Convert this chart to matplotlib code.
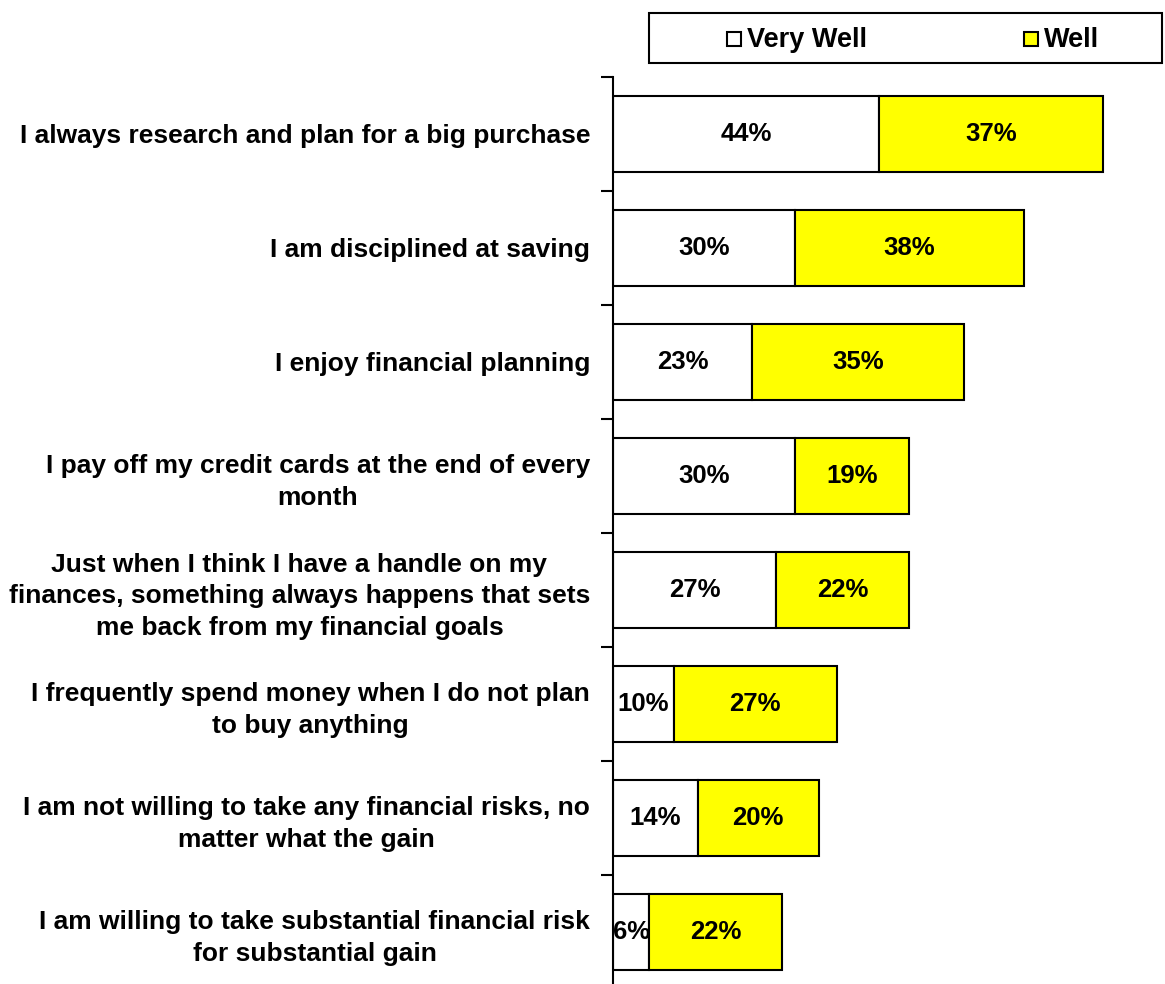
import matplotlib
matplotlib.use("Agg")
import matplotlib.pyplot as plt
from matplotlib.patches import Rectangle

categories = [
    "I always research and plan for a big purchase",
    "I am disciplined at saving",
    "I enjoy financial planning",
    "I pay off my credit cards at the end of every\nmonth",
    "Just when I think I have a handle on my\nfinances, something always happens that sets\nme back from my financial goals",
    "I frequently spend money when I do not plan\nto buy anything",
    "I am not willing to take any financial risks, no\nmatter what the gain",
    "I am willing to take substantial financial risk\nfor substantial gain",
]
very_well = [44, 30, 23, 30, 27, 10, 14, 6]
well = [37, 38, 35, 19, 22, 27, 20, 22]
series_names = ["Very Well", "Well"]
series_colors = ["#FFFFFF", "#FFFF00"]

plt.rcParams["font.family"] = ["Liberation Sans", "DejaVu Sans"]
plt.rcParams["font.weight"] = "bold"

W, H = 1165, 984
fig = plt.figure(figsize=(W / 100, H / 100), dpi=100)
ax_left, ax_top, ax_bottom = 613, 77, 989
ax = fig.add_axes([ax_left / W, 1 - ax_bottom / H, 605 / W, (ax_bottom - ax_top) / H])

pos = list(range(len(categories)))
c1 = ax.barh(pos, very_well, height=0.667, color=series_colors[0],
             edgecolor="black", linewidth=1.5)
c2 = ax.barh(pos, well, left=very_well, height=0.667, color=series_colors[1],
             edgecolor="black", linewidth=1.5)
for cont, vals in ((c1, very_well), (c2, well)):
    ax.bar_label(cont, labels=[f"{v}%" for v in vals], label_type="center",
                 fontsize=18.5, fontweight="bold")

ax.set_xlim(0, 100)
ax.set_ylim(len(categories) - 0.5, -0.5)

ax.set_yticks(pos, categories)
ax.set_yticks([p - 0.5 for p in pos] + [len(pos) - 0.5], minor=True)
ax.tick_params(axis="y", which="major", length=0, pad=16.5)
ax.tick_params(axis="y", which="minor", length=9, width=1.5, direction="out")
for lab in ax.get_yticklabels():
    lab.set_fontsize(19)
    lab.set_fontweight("bold")
    lab.set_multialignment("center")
    lab.set_linespacing(1.42)

ax.set_xticks([])
for s in ("top", "right", "bottom"):
    ax.spines[s].set_visible(False)
ax.spines["left"].set_linewidth(1.5)

# legend box
def fx(px):
    return px / W

def fy(py):
    return 1 - py / H

fig.patches.append(Rectangle((fx(649), fy(63)), fx(1162) - fx(649), fy(13) - fy(63),
                             transform=fig.transFigure, fill=False,
                             edgecolor="black", linewidth=1.5))
for name, col, hx in zip(series_names, series_colors, (727, 1024)):
    fig.patches.append(Rectangle((fx(hx), fy(46)), fx(14), fy(0) - fy(14),
                                 transform=fig.transFigure, facecolor=col,
                                 edgecolor="black", linewidth=1.5))
    fig.text(fx(hx + 20), fy(40), name, fontsize=19.5, fontweight="bold",
             ha="left", va="center")

fig.savefig("out.png", dpi=100)
